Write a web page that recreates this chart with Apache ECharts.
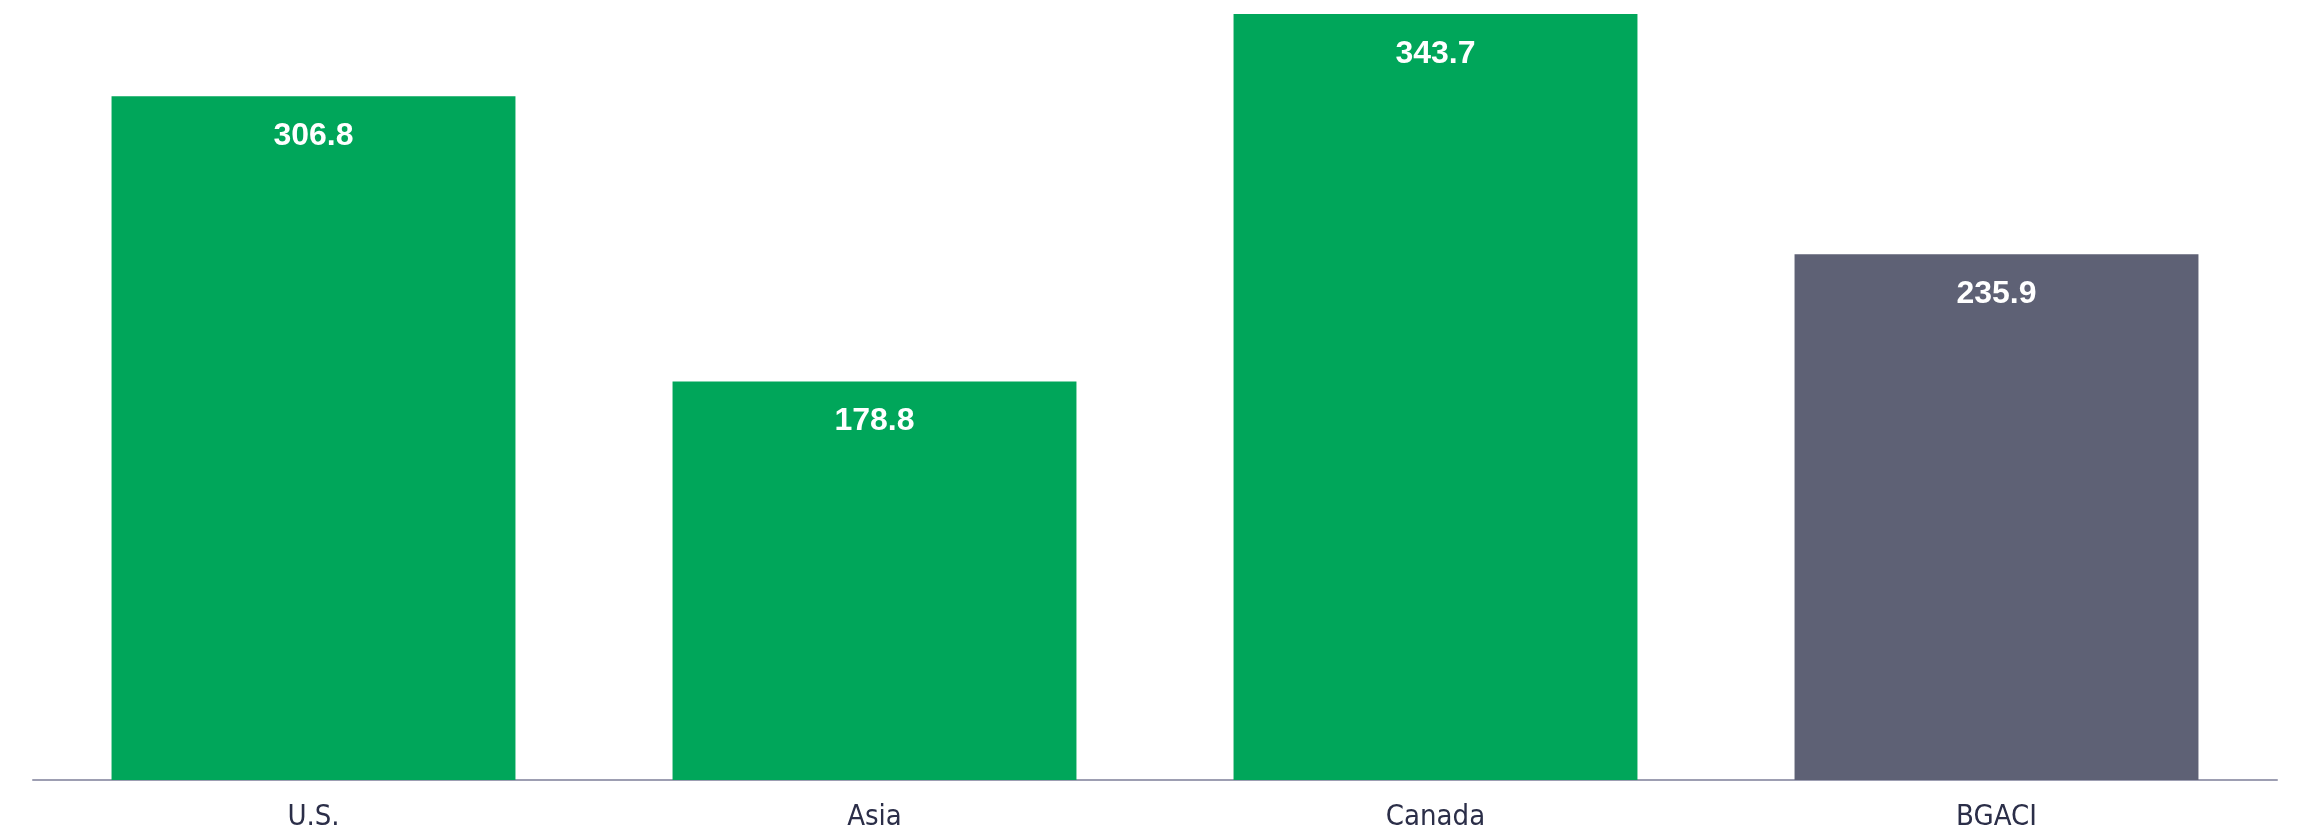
<!DOCTYPE html>
<html>
<head>
<meta charset="utf-8">
<script src="https://cdn.jsdelivr.net/npm/echarts@6/dist/echarts.min.js"></script>
<style>
  html, body { margin: 0; padding: 0; background: #fff; }
  #chart { width: 2300px; height: 839px; }
</style>
</head>
<body>
<div id="chart"></div>
<script>
const categories = ["U.S.", "Asia", "Canada", "BGACI"];
const values = [306.8, 178.8, 343.7, 235.9];
const barColors = ["#00A65A", "#00A65A", "#00A65A", "#5E6175"];

const chart = echarts.init(document.getElementById("chart"));

chart.setOption({
  backgroundColor: "#ffffff",
  animation: false,
  grid: {
    left: 33,
    right: 23,
    top: 0,
    bottom: 59,
  },
  xAxis: {
    type: "category",
    data: categories,
    axisTick: { show: false },
    axisLine: {
      lineStyle: { color: "#9d9eb2", width: 2 },
    },
    axisLabel: {
      color: "#2b2e48",
      fontFamily: "'Liberation Sans Narrow', 'DejaVu Sans Condensed', sans-serif",
      fontSize: 29,
      margin: 23,
    },
  },
  yAxis: {
    type: "value",
    min: 0,
    max: 350,
    show: false,
    splitLine: { show: false },
  },
  series: [
    {
      type: "bar",
      barWidth: "72%",
      data: values.map((v, i) => ({
        value: v,
        itemStyle: { color: barColors[i] },
      })),
      label: {
        show: true,
        position: "insideTop",
        distance: 24,
        color: "#ffffff",
        fontFamily: "'Liberation Sans', Arial, sans-serif",
        fontWeight: "bold",
        fontSize: 32,
        formatter: (p) => p.value.toFixed(1),
      },
    },
  ],
});
</script>
</body>
</html>
